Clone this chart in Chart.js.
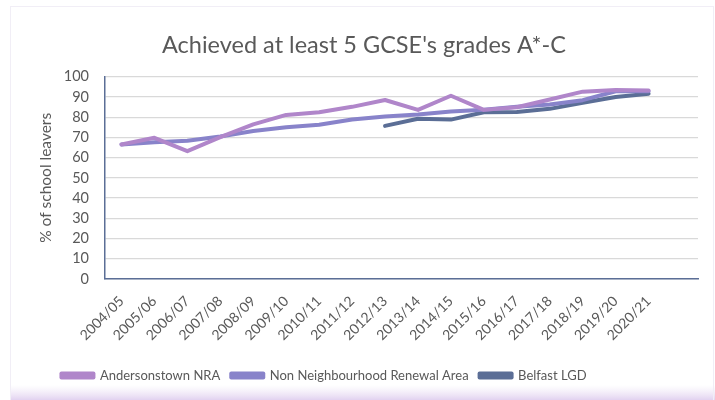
<!DOCTYPE html>
<html>
<head>
<meta charset="utf-8">
<script src="https://cdn.jsdelivr.net/npm/chart.js@4"></script>
<style>
  html,body{margin:0;padding:0;background:#fff;}
  #wrap{width:715px;height:400px;position:relative;}
</style>
</head>
<body>
<div id="wrap"><canvas id="c" width="715" height="400"></canvas></div>
<script>
const categories = ['2004/05','2005/06','2006/07','2007/08','2008/09','2009/10','2010/11','2011/12','2012/13','2013/14','2014/15','2015/16','2016/17','2017/18','2018/19','2019/20','2020/21',''];
const andersonstownNRA = [66.5, 69.8, 63.2, 70.1, 76.4, 81.1, 82.4, 85.1, 88.5, 83.6, 90.6, 83.6, 84.9, 88.7, 92.6, 93.4, 93.2];
const nonNRA = [66.5, 67.6, 68.3, 70.4, 73.2, 75.0, 76.2, 78.8, 80.3, 81.3, 82.8, 83.7, 85.2, 86.3, 88.4, 92.8, 92.8];
const belfastLGD = [null, null, null, null, null, null, null, null, 75.7, 79.2, 78.8, 82.4, 82.6, 84.1, 87.1, 90.0, 91.6];
const yTicks = [0,10,20,30,40,50,60,70,80,90,100];

const FONT = 'Lato, "Open Sans", sans-serif';
const TXT = '#595959';

const framePlugin = {
  id: 'frame',
  afterLayout(chart) {
    if (chart.legend) { chart.legend.left -= 40; chart.legend.right -= 40; }
  },
  beforeDraw(chart) {
    const ctx = chart.ctx;
    ctx.save();
    ctx.fillStyle = '#fff';
    ctx.fillRect(0,0,715,400);
    const g = ctx.createLinearGradient(0, 385, 0, 400);
    g.addColorStop(0, 'rgba(236,226,245,0)');
    g.addColorStop(1, 'rgba(226,210,240,1)');
    ctx.fillStyle = g;
    ctx.fillRect(10, 385, 705, 15);
    ctx.strokeStyle = '#f1eef6';
    ctx.lineWidth = 1;
    ctx.strokeRect(10.5, 6.5, 703, 400);
    ctx.restore();
  }
};

new Chart(document.getElementById('c'), {
  type: 'line',
  data: {
    labels: categories,
    datasets: [
      { label: 'Andersonstown NRA', data: andersonstownNRA, borderColor: '#B086CA', backgroundColor: '#B086CA' },
      { label: 'Non Neighbourhood Renewal Area', data: nonNRA, borderColor: '#8883CA', backgroundColor: '#8883CA' },
      { label: 'Belfast LGD', data: belfastLGD, borderColor: '#5B6E96', backgroundColor: '#5B6E96' }
    ].map(d => Object.assign(d, { borderWidth: 4, pointRadius: 0, tension: 0, fill: false, borderCapStyle: 'round', borderJoinStyle: 'round', spanGaps: false }))
  },
  options: {
    responsive: false,
    animation: false,
    devicePixelRatio: 1,
    layout: { padding: { left: 30, right: 17, top: 8, bottom: 8 } },
    plugins: {
      title: {
        display: true,
        text: "Achieved at least 5 GCSE's grades A*-C",
        color: TXT,
        font: { family: FONT, size: 23.5, weight: 'normal' },
        padding: { top: 23, bottom: 17.5 }
      },
      legend: {
        position: 'bottom',
        labels: {
          color: TXT,
          font: { family: FONT, size: 13 },
          boxWidth: 32,
          boxHeight: 4,
          padding: 11
        }
      },
      tooltip: { enabled: false }
    },
    scales: {
      x: {
        offset: true,
        afterFit(axis) { axis.height = 79; },
        grid: { display: false, drawTicks: false },
        border: { display: true, color: '#5B6E96', width: 1.5 },
        ticks: { color: TXT, font: { family: FONT, size: 14 }, maxRotation: 45, minRotation: 45, autoSkip: false, padding: 14, labelOffset: 0 }
      },
      y: {
        min: 0, max: 100,
        afterBuildTicks(axis) { axis.ticks = yTicks.map(v => ({ value: v })); },
        afterFit(axis) { axis.width = 75; },
        grid: { color: '#D9D9D9', lineWidth: 1.2, drawTicks: false },
        border: { display: true, color: '#5B6E96', width: 1.5 },
        ticks: { color: TXT, font: { family: FONT, size: 14.5 }, padding: 16, autoSkip: false },
        title: { display: true, text: '% of school leavers', color: TXT, font: { family: FONT, size: 15.5 }, padding: { top: 7, bottom: 0 } }
      }
    }
  },
  plugins: [framePlugin]
});
</script>
</body>
</html>
